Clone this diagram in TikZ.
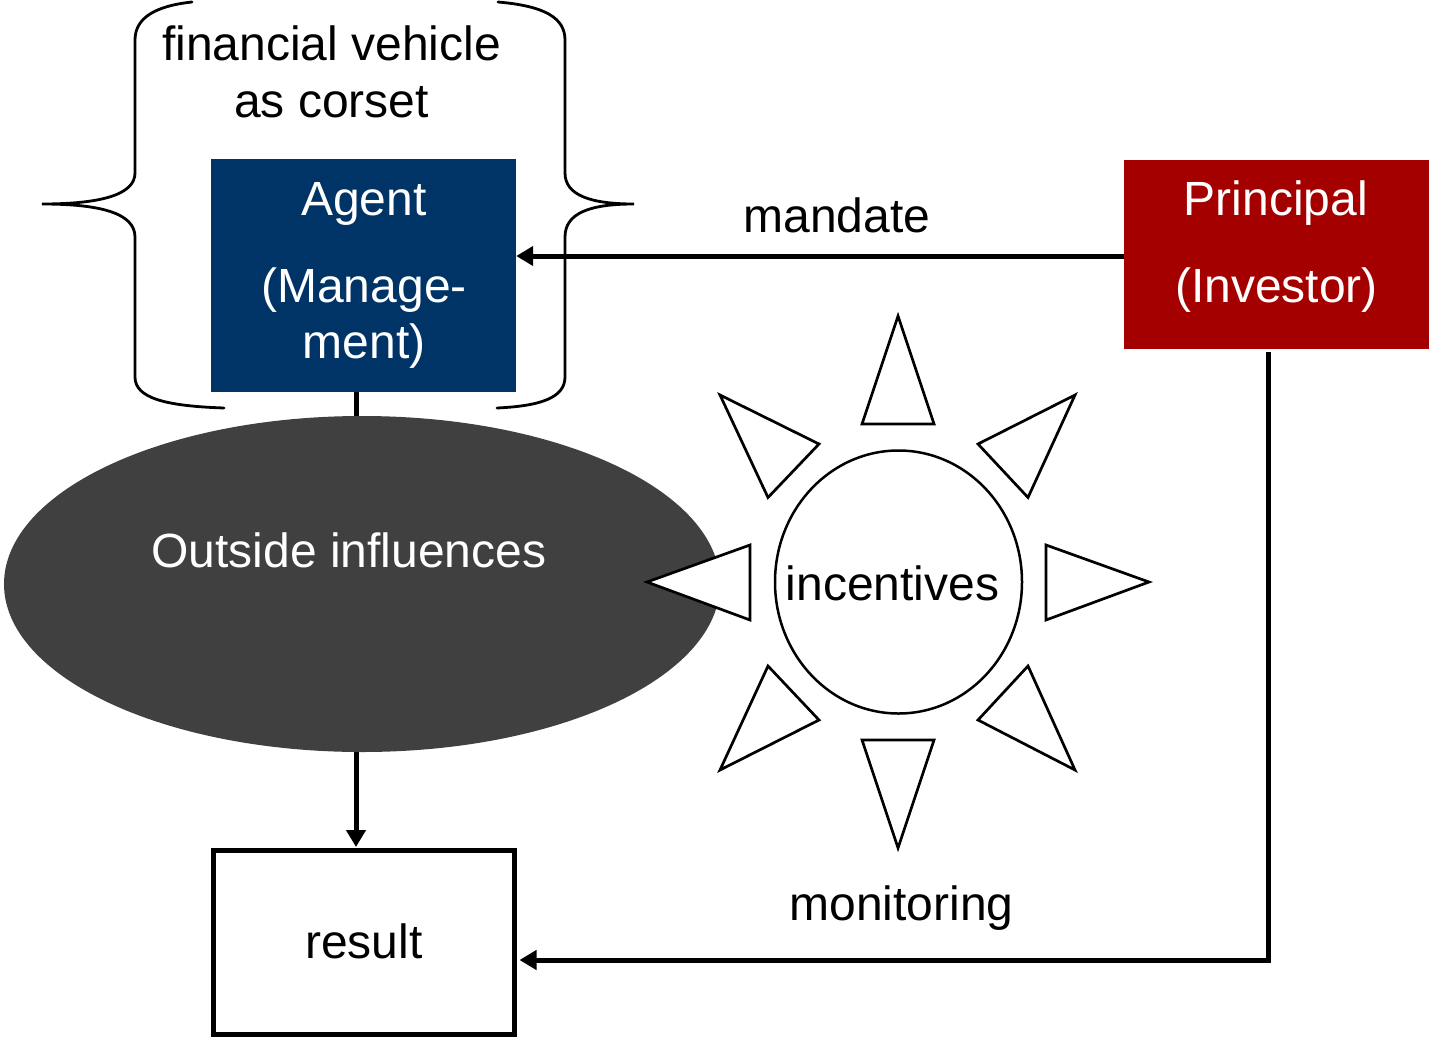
\documentclass[tikz,border=0pt]{standalone}
\usepackage{fontspec}
\setmainfont{Liberation Sans}
\usetikzlibrary{arrows.meta,shapes.geometric}
\definecolor{agentblue}{RGB}{0,51,102}
\definecolor{princred}{RGB}{165,0,0}
\definecolor{ellgray}{RGB}{64,64,64}
\begin{document}
\begin{tikzpicture}[x=1pt,y=-1pt,
  lbl/.style={font=\fontsize{48}{57}\selectfont, anchor=base, inner sep=0pt},
  wlbl/.style={lbl, text=white},
  conn/.style={line width=5pt, -{Triangle[length=17pt,width=19pt]}},
  plain/.style={line width=5pt},
  ray/.style={draw, line width=2.7pt, fill=white, line join=miter},
  brace/.style={line width=2.8pt, line cap=round},
  fillbox/.style={rectangle, draw=none, inner sep=0pt}]
\useasboundingbox (0,0) rectangle (1429,1039);
% braces
\draw[brace] (192,2) .. controls (155,6) and (135,18) .. (135,40) -- (135,173)
  .. controls (135,195) and (100,204) .. (42,204)
  .. controls (100,204) and (135,213) .. (135,237) -- (135,377)
  .. controls (135,398) and (165,406) .. (224,408);
\draw[brace] (498,2) .. controls (545,6) and (565,18) .. (565,40) -- (565,173)
  .. controls (565,195) and (590,204) .. (634,204)
  .. controls (590,204) and (565,213) .. (565,237) -- (565,377)
  .. controls (565,398) and (540,406) .. (497,408);
% boxes
\node[fillbox, fill=agentblue, minimum width=305pt, minimum height=233pt] (agent) at (363.5,275.5) {};
\node[fillbox, fill=princred, minimum width=305pt, minimum height=189pt] (principal) at (1276.5,254.5) {};
\node[ellipse, fill=ellgray, draw=none, inner sep=0pt, minimum width=716pt, minimum height=336pt] (outside) at (362,584) {};
\node[ellipse, draw, fill=white, line width=2.5pt, inner sep=0pt, minimum width=247pt, minimum height=263pt] (incent) at (898.5,582) {};
\node[rectangle, draw, line width=5pt, inner sep=0pt, minimum width=301pt, minimum height=184pt] (result) at (364,942.5) {};
% rays
\draw[ray] (898,316) -- (934,424) -- (862,424) -- cycle;
\draw[ray] (898,848) -- (934,740) -- (862,740) -- cycle;
\draw[ray] (647,582) -- (750,545) -- (750,620) -- cycle;
\draw[ray] (1149,582) -- (1046,545) -- (1046,620) -- cycle;
\draw[ray] (720,395) -- (819,444) -- (768,497.5) -- cycle;
\draw[ray] (1075,395) -- (978,444) -- (1028,497.5) -- cycle;
\draw[ray] (720,770) -- (819,720) -- (768,666) -- cycle;
\draw[ray] (1075,770) -- (978,720) -- (1028,666) -- cycle;
% connectors
\draw[plain] ([xshift=-7.5pt]agent.south) -- ([xshift=-6pt]outside.north);
\draw[conn] ([xshift=-6pt]outside.south) -- ([xshift=-8pt, yshift=1pt]result.north);
\draw[conn] ([yshift=-1.5pt]principal.west) -- ([yshift=-1.5pt]principal.west -| agent.east);
\draw[conn, line join=miter] ([xshift=-8.5pt, yshift=-3pt]principal.south) |- ([yshift=-17.5pt, xshift=2.5pt]result.east);
% texts
\node[lbl] (fv1) at (331.5,60) {financial vehicle};
\node[lbl] (fv2) at (331.5,117) {as corset};
\node[wlbl] (ag1) at (364,215) {Agent};
\node[wlbl] (ag2) at (364,302) {(Manage-};
\node[wlbl] (ag3) at (364,358) {ment)};
\node[wlbl] (pr1) at (1276,215) {Principal};
\node[wlbl] (pr2) at (1276.5,302) {(Investor)};
\node[lbl] (mand) at (837,232) {mandate};
\node[wlbl] (out) at (349,567) {Outside influences};
\node[lbl] (inc) at (892.5,600) {incentives};
\node[lbl] (mon) at (901.5,920) {monitoring};
\node[lbl] (res) at (364,958) {result};
\end{tikzpicture}
\end{document}
